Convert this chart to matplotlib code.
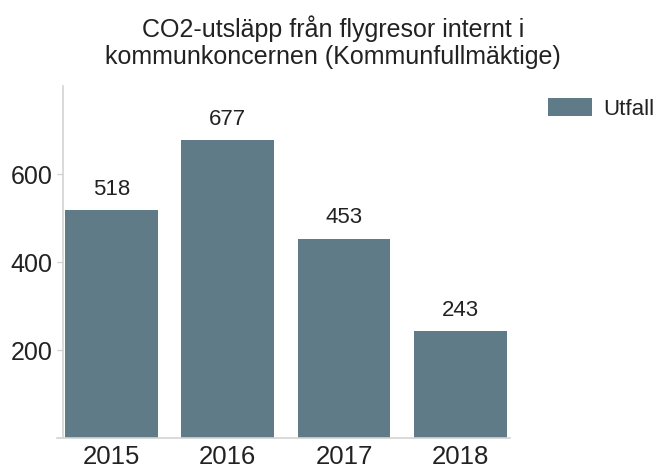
import matplotlib.pyplot as plt

years = ["2015", "2016", "2017", "2018"]
utfall = [518, 677, 453, 243]
yticks = [200, 400, 600]

bar_color = "#607b88"
text_color = "#222222"
spine_color = "#d3d3d3"

plt.rcParams["font.family"] = ["Liberation Sans", "DejaVu Sans"]

fig = plt.figure(figsize=(6.56, 4.69), dpi=100)
ax = fig.add_axes([63 / 656, 31 / 469, 447 / 656, 352 / 469])

x = list(range(len(years)))
ax.bar(x, utfall, width=0.8, color=bar_color, label="Utfall", zorder=2)

for xi, v in zip(x, utfall):
    ax.annotate(str(v), (xi, v), xytext=(0, 11), textcoords="offset points",
                ha="center", va="baseline", fontsize=16, color=text_color)

ax.set_xlim(-0.42, 3.43)
ax.set_ylim(0, 800)
ax.set_xticks(x)
ax.set_xticklabels(years)
ax.set_yticks(yticks)
ax.tick_params(axis="x", length=0, labelsize=18.5, colors=text_color, pad=5)
ax.tick_params(axis="y", length=4.3, width=1, color=spine_color, labelsize=18,
               labelcolor=text_color, pad=3)

for side in ("top", "right"):
    ax.spines[side].set_visible(False)
for side in ("left", "bottom"):
    ax.spines[side].set_color(spine_color)
    ax.spines[side].set_linewidth(1.2)
ax.spines["bottom"].set_bounds(-0.47, 3.43)

fig.text(0.508, 0.968, "CO2-utsläpp från flygresor internt i\nkommunkoncernen (Kommunfullmäktige)",
         ha="center", va="top", fontsize=18, color=text_color, linespacing=1.2)

ax.legend(loc="upper left", bbox_to_anchor=(548 / 656, 1 - 98 / 469),
          bbox_transform=fig.transFigure, frameon=False, fontsize=16,
          handlelength=2.0, handleheight=0.86, labelcolor=text_color,
          handletextpad=0.5, borderaxespad=0, borderpad=0)

fig.savefig("out.png", dpi=100, facecolor="white")
